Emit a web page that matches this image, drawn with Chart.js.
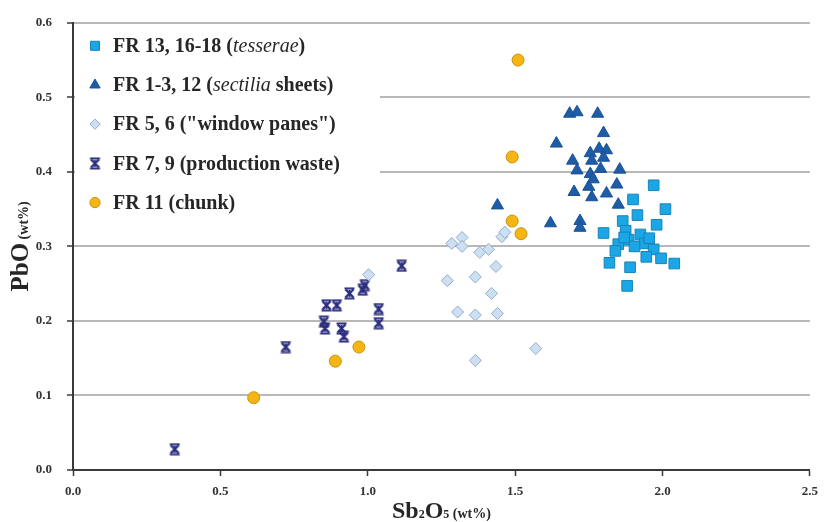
<!DOCTYPE html>
<html lang="en">
<head>
<meta charset="UTF-8">
<title>PbO vs Sb2O5</title>
<script src="https://cdn.jsdelivr.net/npm/chart.js"></script>
<style>
  html, body { margin: 0; padding: 0; background: #fff; }
</style>
</head>
<body>
<canvas id="chart" width="826" height="522"></canvas>
<script>
// FR 13, 16-18 (tesserae)
const tesseraeX = [1.97, 1.90, 2.01, 1.915, 1.865, 1.98, 1.80, 1.875, 1.925, 1.885, 1.85, 1.94, 1.97, 1.84, 1.945, 1.995, 2.04, 1.82, 1.89, 1.88, 1.87, 1.905, 1.955];
const tesseraeY = [0.382, 0.363, 0.350, 0.342, 0.334, 0.329, 0.318, 0.321, 0.316, 0.309, 0.303, 0.304, 0.296, 0.294, 0.286, 0.284, 0.277, 0.278, 0.272, 0.247, 0.312, 0.300, 0.311];

// FR 1-3, 12 (sectilia sheets)
const sectiliaX = [1.44, 1.62, 1.72, 1.72, 1.64, 1.685, 1.71, 1.78, 1.80, 1.785, 1.81, 1.755, 1.80, 1.76, 1.695, 1.71, 1.79, 1.755, 1.855, 1.70, 1.75, 1.76, 1.81, 1.845, 1.85, 1.765];
const sectiliaY = [0.355, 0.331, 0.334, 0.325, 0.438, 0.478, 0.480, 0.478, 0.452, 0.431, 0.429, 0.425, 0.419, 0.415, 0.415, 0.402, 0.404, 0.397, 0.403, 0.373, 0.380, 0.366, 0.371, 0.383, 0.356, 0.390];

// FR 5, 6 ("window panes")
const panesX = [1.285, 1.32, 1.32, 1.38, 1.41, 1.455, 1.465, 1.435, 1.27, 1.365, 1.42, 1.305, 1.365, 1.44, 1.57, 1.365, 1.003];
const panesY = [0.304, 0.312, 0.300, 0.292, 0.296, 0.313, 0.319, 0.273, 0.254, 0.259, 0.237, 0.212, 0.208, 0.210, 0.163, 0.147, 0.262];

// FR 7, 9 (production waste)
const wasteX = [1.115, 0.99, 0.983, 0.938, 0.86, 0.895, 1.037, 0.851, 0.855, 1.037, 0.911, 0.919, 0.722, 0.345];
const wasteY = [0.274, 0.248, 0.242, 0.237, 0.221, 0.221, 0.216, 0.199, 0.190, 0.197, 0.190, 0.179, 0.165, 0.028];

// FR 11 (chunk)
const chunkX = [1.51, 1.49, 1.49, 1.52, 0.97, 0.89, 0.613];
const chunkY = [0.550, 0.420, 0.334, 0.317, 0.165, 0.146, 0.097];

const xTickLabels = ['0.0', '0.5', '1.0', '1.5', '2.0', '2.5'];
const yTickLabels = ['0.0', '0.1', '0.2', '0.3', '0.4', '0.5', '0.6'];

// legend text, [text, italic]
const legendParts = [
    [['FR 13, 16-18 (', false], ['tesserae', true], [')', false]],
    [['FR 1-3, 12 (', false], ['sectilia', true], [' sheets)', false]],
    [['FR 5, 6 ("window panes")', false]],
    [['FR 7, 9 (production waste)', false]],
    [['FR 11 (chunk)', false]]
];

const serif = "'Liberation Serif', 'Times New Roman', serif";

function toPoints(xs, ys) {
    return xs.map((x, i) => ({ x: x, y: ys[i] }));
}

// X marker with bars top and bottom
function makeStar(color) {
    const c = document.createElement('canvas');
    c.width = 13; c.height = 13;
    const g = c.getContext('2d');
    g.strokeStyle = color;
    g.lineWidth = 2.4;
    g.beginPath();
    g.moveTo(2.5, 2.5); g.lineTo(10.5, 10.5);
    g.moveTo(10.5, 2.5); g.lineTo(2.5, 10.5);
    g.stroke();
    g.lineWidth = 2;
    g.beginPath();
    g.moveTo(1.5, 1.5); g.lineTo(11.5, 1.5);
    g.moveTo(1.5, 11.5); g.lineTo(11.5, 11.5);
    g.moveTo(6.5, 3); g.lineTo(6.5, 10);
    g.stroke();
    return c;
}

// white legend box with mixed italic text + axis titles
const extras = {
    id: 'extras',
    afterDraw(chart) {
        const ctx = chart.ctx;
        const area = chart.chartArea;
        ctx.save();
        ctx.fillStyle = '#fff';
        ctx.fillRect(area.left + 2, area.top + 2, 305, 200);

        chart.data.datasets.forEach((ds, i) => {
            const x = area.left + 22;
            const y = area.top + 23 + i * 39.2;
            ctx.fillStyle = ds.backgroundColor;
            ctx.strokeStyle = ds.borderColor;
            ctx.lineWidth = ds.borderWidth;
            Chart.helpers.drawPoint(ctx, {
                pointStyle: ds.pointStyle,
                radius: ds.pointRadius * 0.85,
                rotation: 0,
                borderWidth: ds.borderWidth
            }, x, y);
            let tx = x + 18;
            ctx.fillStyle = '#262626';
            ctx.textBaseline = 'middle';
            ctx.textAlign = 'left';
            legendParts[i].forEach(([t, it]) => {
                ctx.font = (it ? 'italic ' : 'bold ') + '20px ' + serif;
                ctx.fillText(t, tx, y + 1);
                tx += ctx.measureText(t).width;
            });
        });

        // x axis title: Sb2O5 (wt%)
        const xParts = [['Sb', 'bold 24px'], ['2', 'bold 12px'], ['O', 'bold 24px'], ['5', 'bold 12px'], [' (wt%)', 'bold 14px']];
        ctx.fillStyle = '#262626';
        ctx.textBaseline = 'alphabetic';
        let w = 0;
        xParts.forEach(p => { ctx.font = p[1] + ' ' + serif; w += ctx.measureText(p[0]).width; });
        let cx = (area.left + area.right) / 2 - w / 2;
        xParts.forEach(p => {
            ctx.font = p[1] + ' ' + serif;
            ctx.fillText(p[0], cx, 518);
            cx += ctx.measureText(p[0]).width;
        });

        // y axis title: PbO (wt%)
        const yParts = [['PbO', 'bold 25px'], [' (wt%)', 'bold 14px']];
        ctx.translate(28, (area.top + area.bottom) / 2);
        ctx.rotate(-Math.PI / 2);
        w = 0;
        yParts.forEach(p => { ctx.font = p[1] + ' ' + serif; w += ctx.measureText(p[0]).width; });
        cx = -w / 2;
        yParts.forEach(p => {
            ctx.font = p[1] + ' ' + serif;
            ctx.fillText(p[0], cx, 0);
            cx += ctx.measureText(p[0]).width;
        });
        ctx.restore();
    }
};

const ctx = document.getElementById('chart').getContext('2d');
new Chart(ctx, {
    type: 'scatter',
    data: {
        datasets: [{
            label: 'FR 13, 16-18 (tesserae)',
            data: toPoints(tesseraeX, tesseraeY),
            pointStyle: 'rect',
            pointRadius: 7.5,
            backgroundColor: '#1ba6e5',
            borderColor: '#1683ba',
            borderWidth: 1
        }, {
            label: 'FR 1-3, 12 (sectilia sheets)',
            data: toPoints(sectiliaX, sectiliaY),
            pointStyle: 'triangle',
            pointRadius: 7,
            backgroundColor: '#1e5ca8',
            borderColor: '#1a5196',
            borderWidth: 1
        }, {
            label: 'FR 5, 6 ("window panes")',
            data: toPoints(panesX, panesY),
            pointStyle: 'rectRot',
            pointRadius: 6,
            backgroundColor: '#cddff2',
            borderColor: '#93acc9',
            borderWidth: 1
        }, {
            label: 'FR 7, 9 (production waste)',
            data: toPoints(wasteX, wasteY),
            pointStyle: makeStar('#2c2f7f'),
            pointRadius: 6,
            backgroundColor: '#2c2f7f',
            borderColor: '#2c2f7f',
            borderWidth: 0
        }, {
            label: 'FR 11 (chunk)',
            data: toPoints(chunkX, chunkY),
            pointStyle: 'circle',
            pointRadius: 6,
            backgroundColor: '#f5b513',
            borderColor: '#c9920e',
            borderWidth: 1
        }]
    },
    options: {
        responsive: false,
        animation: false,
        layout: { padding: { top: 22, right: 13, left: 0, bottom: 0 } },
        plugins: {
            legend: { display: false },
            tooltip: { enabled: false }
        },
        scales: {
            x: {
                type: 'linear',
                min: 0,
                max: 2.5,
                afterFit: s => { s.height = 52; },
                border: { display: true, color: '#3a3a3a', width: 2 },
                grid: { drawOnChartArea: false, drawTicks: true, tickLength: 6, tickColor: '#3a3a3a', tickWidth: 1.5 },
                ticks: {
                    stepSize: 0.5,
                    padding: 8,
                    color: '#333',
                    font: { family: serif, size: 13, weight: 'bold' },
                    callback: (v, i) => xTickLabels[i]
                }
            },
            y: {
                type: 'linear',
                min: 0,
                max: 0.6,
                afterFit: s => { s.width = 73; },
                border: { display: true, color: '#3a3a3a', width: 2 },
                grid: { color: '#b8b8b8', lineWidth: 2, drawTicks: true, tickLength: 6, tickColor: '#3a3a3a', tickWidth: 1.5 },
                ticks: {
                    stepSize: 0.1,
                    padding: 15,
                    color: '#333',
                    font: { family: serif, size: 13, weight: 'bold' },
                    callback: (v, i) => yTickLabels[i]
                }
            }
        }
    },
    plugins: [extras]
});
</script>
</body>
</html>
